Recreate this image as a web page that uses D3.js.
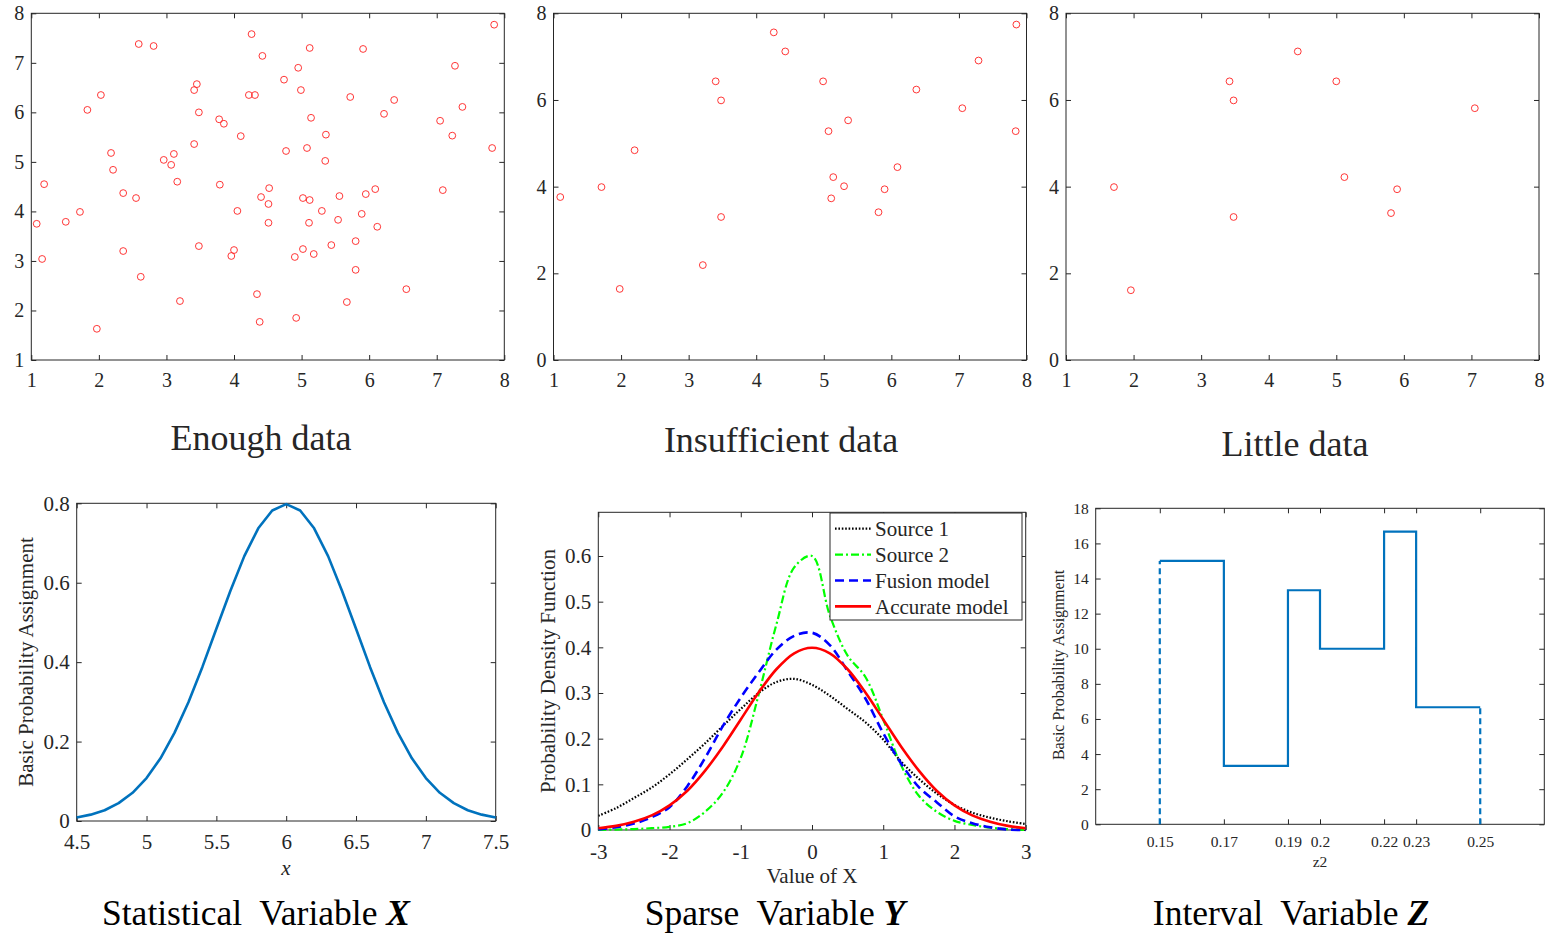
<!DOCTYPE html>
<html>
<head>
<meta charset="utf-8">
<script src="https://cdn.jsdelivr.net/npm/d3@7"></script>
<style>
  body { margin: 0; background: #fff; }
  svg { display: block; }
  text { font-family: "Liberation Serif", "Times New Roman", serif; fill: #262626; }
</style>
</head>
<body>
<svg id="chart" width="1547" height="936"></svg>
<script>
// ---- data ----
const enoughX = [1.08, 1.19, 1.16, 1.51, 1.72, 1.83, 2.03, 1.97, 2.18, 2.21, 2.36, 2.36, 2.55, 2.62, 2.59, 2.81,
  2.96, 3.07, 3.11, 3.16, 3.20, 3.41, 3.41, 3.45, 3.48, 3.48, 3.78, 3.85, 3.79, 3.96, 4.00, 4.05, 4.10, 4.22,
  4.31, 4.26, 4.34, 4.38, 4.40, 4.42, 4.51, 4.52, 4.51, 4.74, 4.77, 4.92, 4.90, 4.95, 4.99, 5.02, 5.02, 5.08,
  5.12, 5.14, 5.11, 5.12, 5.18, 5.30, 5.36, 5.35, 5.44, 5.54, 5.56, 5.67, 5.72, 5.80, 5.80, 5.89, 5.95, 5.91,
  6.09, 6.12, 6.22, 6.37, 6.55, 7.05, 7.09, 7.27, 7.23, 7.38, 7.85, 7.82];
const enoughY = [3.75, 4.55, 3.04, 3.79, 3.99, 6.05, 6.35, 1.63, 5.18, 4.84, 4.37, 3.20, 4.27, 2.68, 7.38, 7.34,
  5.04, 4.94, 5.16, 4.60, 2.19, 5.36, 6.45, 6.57, 6.00, 3.30, 5.86, 5.77, 4.54, 3.10, 3.22, 4.01, 5.52, 6.35,
  6.35, 7.58, 2.33, 1.77, 4.29, 7.14, 4.15, 4.47, 3.77, 6.66, 5.22, 1.85, 3.08, 6.90, 6.45, 3.24, 4.27, 5.28,
  7.30, 5.89, 3.77, 4.23, 3.14, 4.01, 5.55, 5.02, 3.32, 3.83, 4.31, 2.17, 6.31, 3.40, 2.82, 3.95, 4.35, 7.28,
  4.45, 3.69, 5.97, 6.25, 2.43, 5.83, 4.43, 6.94, 5.53, 6.11, 7.77, 5.28];

const insuffX = [1.10, 1.71, 1.98, 2.20, 3.21, 3.40, 3.48, 3.48, 4.26, 4.43, 4.99, 5.07, 5.14, 5.11, 5.30, 5.36,
  5.81, 5.90, 6.09, 6.37, 7.05, 7.29, 7.85, 7.84];
const insuffY = [3.76, 3.99, 1.64, 4.84, 2.19, 6.43, 5.99, 3.30, 7.56, 7.12, 6.43, 5.28, 4.22, 3.73, 4.01, 5.53,
  3.41, 3.94, 4.45, 6.24, 5.81, 6.91, 7.74, 5.28];

const littleX = [1.71, 1.96, 3.42, 3.48, 3.48, 4.43, 5.00, 5.12, 5.81, 5.90, 7.05];
const littleY = [3.99, 1.61, 6.43, 5.99, 3.30, 7.12, 6.43, 4.22, 3.39, 3.94, 5.81];

const bpaX = [4.5, 4.6, 4.7, 4.8, 4.9, 5.0, 5.1, 5.2, 5.3, 5.4, 5.5, 5.6, 5.7, 5.8, 5.9, 6.0,
  6.1, 6.2, 6.3, 6.4, 6.5, 6.6, 6.7, 6.8, 6.9, 7.0, 7.1, 7.2, 7.3, 7.4, 7.5];
const bpaY = [0.009, 0.016, 0.027, 0.045, 0.071, 0.108, 0.158, 0.222, 0.299, 0.388, 0.484, 0.579, 0.667, 0.737, 0.782, 0.798,
  0.782, 0.737, 0.667, 0.579, 0.484, 0.388, 0.299, 0.222, 0.158, 0.108, 0.071, 0.045, 0.027, 0.016, 0.009];

const pdfX = [-3, -2.75, -2.5, -2.25, -2, -1.75, -1.5, -1.25, -1, -0.75, -0.5, -0.25, 0,
  0.25, 0.5, 0.75, 1, 1.25, 1.5, 1.75, 2, 2.25, 2.5, 2.75, 3];
const source1 = [0.031, 0.048, 0.070, 0.093, 0.122, 0.155, 0.190, 0.228, 0.265, 0.300, 0.324, 0.331, 0.318,
  0.294, 0.265, 0.236, 0.198, 0.150, 0.112, 0.080, 0.055, 0.038, 0.027, 0.019, 0.013];
const source2 = [0.000, 0.001, 0.002, 0.004, 0.007, 0.015, 0.040, 0.082, 0.158, 0.296, 0.450, 0.575, 0.600,
  0.470, 0.382, 0.335, 0.242, 0.142, 0.075, 0.040, 0.020, 0.011, 0.005, 0.002, 0.000];
const fusion = [0.001, 0.006, 0.014, 0.028, 0.050, 0.096, 0.158, 0.228, 0.290, 0.345, 0.395, 0.425, 0.432,
  0.405, 0.348, 0.288, 0.212, 0.146, 0.094, 0.061, 0.030, 0.015, 0.006, 0.001, 0.000];
const accurate = [0.004, 0.009, 0.018, 0.032, 0.054, 0.086, 0.130, 0.183, 0.242, 0.301, 0.352, 0.387, 0.399,
  0.387, 0.352, 0.301, 0.242, 0.183, 0.130, 0.086, 0.054, 0.032, 0.018, 0.009, 0.004];
const pdfNames = ['Source 1', 'Source 2', 'Fusion model', 'Accurate model'];

const zEdges = [0.15, 0.17, 0.19, 0.2, 0.22, 0.23, 0.25];
const zMass = [15, 3.333, 13.333, 10, 16.667, 6.667];
const zTickLabels = ['0.15', '0.17', '0.19', '0.2', '0.22', '0.23', '0.25'];

// ---- drawing ----
const svg = d3.select('#chart');
const FONT = '"Liberation Serif", "Times New Roman", serif';
const plain = d => String(d); // keeps a plain hyphen for negatives, like matlab

// box with inward ticks on all four sides, matlab style
function frame(x, y, o) {
  const [xa, xb] = x.range(), [ya, yb] = y.range();
  const g = svg.append('g');
  g.append('g').attr('transform', `translate(0,${ya})`)
    .call(d3.axisBottom(x).tickValues(o.xTicks).tickFormat(o.xFmt).tickSizeInner(-5).tickSizeOuter(0).tickPadding(o.xPad));
  g.append('g').attr('transform', `translate(0,${yb})`)
    .call(d3.axisTop(x).tickValues(o.xTicks).tickFormat('').tickSizeInner(-5).tickSizeOuter(0));
  g.append('g').attr('transform', `translate(${xa},0)`)
    .call(d3.axisLeft(y).tickValues(o.yTicks).tickFormat(o.yFmt).tickSizeInner(-5).tickSizeOuter(0).tickPadding(o.yPad));
  g.append('g').attr('transform', `translate(${xb},0)`)
    .call(d3.axisRight(y).tickValues(o.yTicks).tickFormat('').tickSizeInner(-5).tickSizeOuter(0));
  g.selectAll('.domain').remove();
  g.selectAll('.tick line').attr('stroke', '#262626');
  g.selectAll('.tick text')
    .attr('fill', '#262626')
    .style('font-family', FONT)
    .style('font-size', o.font + 'px');
  g.append('rect')
    .attr('x', xa).attr('y', yb).attr('width', xb - xa).attr('height', ya - yb)
    .attr('fill', 'none').attr('stroke', '#262626').attr('stroke-width', 1);
  return g;
}

function label(txt, x, y, size, opts = {}) {
  const t = svg.append('text')
    .attr('x', x).attr('y', y)
    .attr('text-anchor', 'middle')
    .style('font-size', size + 'px')
    .style('white-space', 'pre');
  if (opts.italic) t.style('font-style', 'italic');
  if (opts.rotate) t.attr('transform', `rotate(-90 ${x} ${y})`).attr('dy', '0.32em');
  return t.text(txt);
}

function title(parts, x, y) {
  const t = svg.append('text').attr('x', x).attr('y', y).attr('text-anchor', 'middle')
    .style('font-size', '35.5px').style('white-space', 'pre').attr('fill', '#000');
  parts.forEach(([s, bi]) => {
    const sp = t.append('tspan').text(s).attr('fill', '#000');
    if (bi) sp.style('font-weight', 'bold').style('font-style', 'italic');
  });
}

// top row scatter panels
const scatterPanels = [
  { xs: enoughX, ys: enoughY, x0: 31.3, yMin: 1, yTicks: d3.range(1, 9), name: 'Enough data', tx: 261, ty: 450 },
  { xs: insuffX, ys: insuffY, x0: 553.5, yMin: 0, yTicks: [0, 2, 4, 6, 8], name: 'Insufficient data', tx: 781, ty: 452 },
  { xs: littleX, ys: littleY, x0: 1066, yMin: 0, yTicks: [0, 2, 4, 6, 8], name: 'Little data', tx: 1295, ty: 456 }
];

scatterPanels.forEach(p => {
  const x = d3.scaleLinear().domain([1, 8]).range([p.x0, p.x0 + 473]);
  const y = d3.scaleLinear().domain([p.yMin, 8]).range([360, 13.3]);
  frame(x, y, { xTicks: d3.range(1, 9), yTicks: p.yTicks, xFmt: plain, yFmt: plain, font: 20, xPad: 13, yPad: 7 });
  svg.append('g').selectAll('circle')
    .data(p.xs.map((v, i) => [v, p.ys[i]]))
    .enter().append('circle')
    .attr('cx', d => x(d[0])).attr('cy', d => y(d[1]))
    .attr('r', 3.4)
    .attr('fill', 'none').attr('stroke', '#ff2020').attr('stroke-width', 0.9);
  svg.append('text').attr('x', p.tx).attr('y', p.ty).attr('text-anchor', 'middle')
    .style('font-size', '36px').attr('fill', '#000').text(p.name);
});

// bottom left: statistical variable
{
  const x = d3.scaleLinear().domain([4.5, 7.5]).range([76.7, 495.7]);
  const y = d3.scaleLinear().domain([0, 0.8]).range([821, 503.3]);
  frame(x, y, {
    xTicks: [4.5, 5, 5.5, 6, 6.5, 7, 7.5], yTicks: [0, 0.2, 0.4, 0.6, 0.8],
    xFmt: plain, yFmt: plain, font: 21, xPad: 13, yPad: 7
  });
  svg.append('path')
    .datum(bpaX.map((v, i) => [v, bpaY[i]]))
    .attr('d', d3.line().x(d => x(d[0])).y(d => y(d[1])))
    .attr('fill', 'none').attr('stroke', '#0072bd').attr('stroke-width', 2.6)
    .attr('stroke-linejoin', 'round');
  label('Basic Probability Assignment', 26, 662, 21, { rotate: true });
  label('x', 286, 875, 21, { italic: true });
  title([['Statistical  Variable '], ['X', true]], 256, 925);
}

// bottom middle: sparse variable
{
  const x = d3.scaleLinear().domain([-3, 3]).range([598.3, 1025.7]);
  const y = d3.scaleLinear().domain([0, 0.6957]).range([830, 512.3]);
  frame(x, y, {
    xTicks: d3.range(-3, 4), yTicks: [0, 0.1, 0.2, 0.3, 0.4, 0.5, 0.6],
    xFmt: plain, yFmt: plain, font: 21, xPad: 14, yPad: 7
  });
  const styles = [
    { ys: source1, color: '#000000', dash: '1.6,1.8', w: 2.2 },
    { ys: source2, color: '#00ff00', dash: '8,3,2,3', w: 2.2 },
    { ys: fusion, color: '#0000ff', dash: '9,5', w: 2.6 },
    { ys: accurate, color: '#ff0000', dash: null, w: 2.6 }
  ];
  const line = d3.line().x(d => x(d[0])).y(d => y(d[1])).curve(d3.curveCatmullRom);
  svg.append('clipPath').attr('id', 'pdfclip').append('rect')
    .attr('x', 598.3).attr('y', 512.3).attr('width', 427.4).attr('height', 319.7);
  styles.forEach(s => {
    svg.append('path')
      .datum(pdfX.map((v, i) => [v, s.ys[i]]))
      .attr('d', line)
      .attr('clip-path', 'url(#pdfclip)')
      .attr('fill', 'none').attr('stroke', s.color).attr('stroke-width', s.w)
      .attr('stroke-dasharray', s.dash);
  });
  // legend
  const lg = svg.append('g').attr('transform', 'translate(830,513)');
  lg.append('rect').attr('width', 192).attr('height', 107)
    .attr('fill', '#fff').attr('stroke', '#262626').attr('stroke-width', 1);
  styles.forEach((s, i) => {
    const cy = 15.7 + i * 25.9;
    lg.append('line').attr('x1', 5).attr('x2', 41).attr('y1', cy).attr('y2', cy)
      .attr('stroke', s.color).attr('stroke-width', s.w).attr('stroke-dasharray', s.dash);
    lg.append('text').attr('x', 45).attr('y', cy).attr('dy', '0.34em')
      .style('font-size', '21px').attr('fill', '#000').text(pdfNames[i]);
  });
  label('Probability Density Function', 548, 671, 21, { rotate: true });
  label('Value of X', 812, 883, 21);
  title([['Sparse  Variable '], ['Y', true]], 775, 925);
}

// bottom right: interval variable
{
  const x = d3.scaleLinear().domain([0.13, 0.27]).range([1095.7, 1544.3]);
  const y = d3.scaleLinear().domain([0, 18]).range([824.3, 508.3]);
  frame(x, y, {
    xTicks: zEdges, yTicks: d3.range(0, 19, 2),
    xFmt: (d, i) => zTickLabels[i], yFmt: plain, font: 15.5, xPad: 12, yPad: 7
  });
  const pts = zEdges.map((e, i) => [e, zMass[Math.min(i, zMass.length - 1)]]);
  svg.append('path')
    .datum(pts)
    .attr('d', d3.line().x(d => x(d[0])).y(d => y(d[1])).curve(d3.curveStepAfter))
    .attr('fill', 'none').attr('stroke', '#0072bd').attr('stroke-width', 2.2);
  const first = zEdges[0], last = zEdges[zEdges.length - 1];
  [[first, zMass[0]], [last, zMass[zMass.length - 1]]].forEach(([e, m]) => {
    svg.append('line')
      .attr('x1', x(e)).attr('x2', x(e)).attr('y1', y(0)).attr('y2', y(m))
      .attr('stroke', '#0072bd').attr('stroke-width', 2.2).attr('stroke-dasharray', '6,4');
  });
  label('Basic Probability Assignment', 1059, 665, 16, { rotate: true });
  label('z2', 1320, 867, 15.5);
  title([['Interval  Variable '], ['Z', true]], 1291, 925);
}
</script>
</body>
</html>
